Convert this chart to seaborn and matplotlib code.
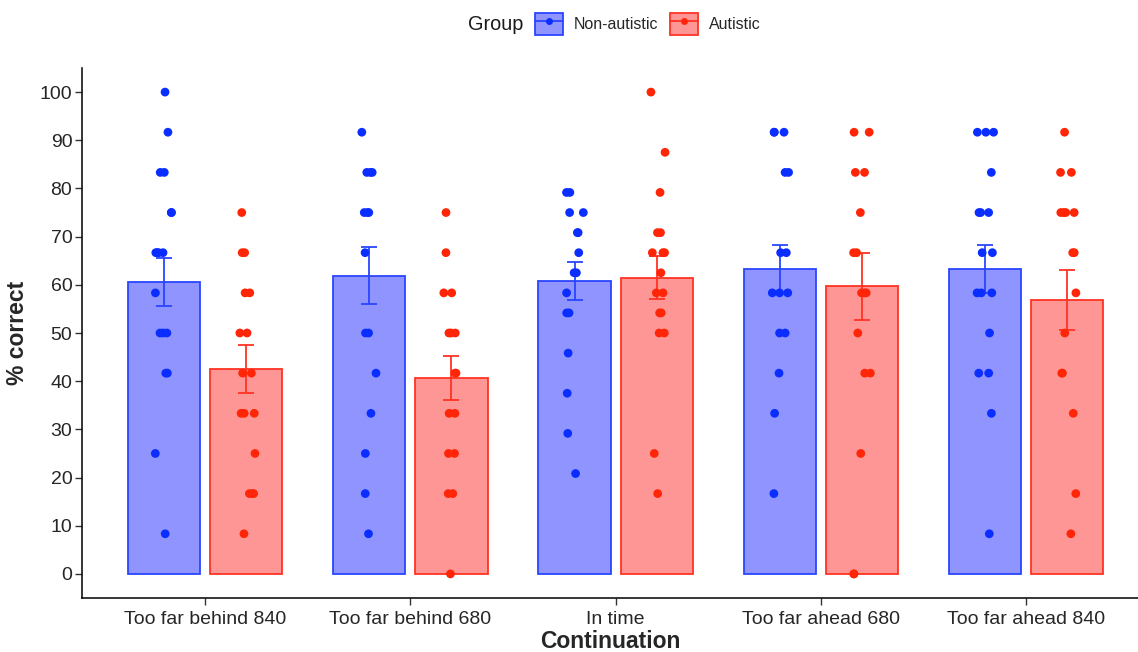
import numpy as np
import pandas as pd
import matplotlib
matplotlib.use("Agg")
import matplotlib.pyplot as plt
from matplotlib.patches import Patch
from matplotlib.lines import Line2D
from matplotlib.legend_handler import HandlerTuple
import seaborn as sns

conditions = ["Too far behind 840", "Too far behind 680", "In time",
              "Too far ahead 680", "Too far ahead 840"]
groups = ["Non-autistic", "Autistic"]

# bar heights and standard errors
mean_non = [60.6, 61.9, 60.8, 63.2, 63.2]
se_non = [5.05, 5.9, 3.9, 5.0, 5.0]
mean_aut = [42.6, 40.7, 61.5, 59.7, 56.9]
se_aut = [4.95, 4.6, 4.5, 6.9, 6.2]

# individual scores (% correct)
non_behind840 = [100, 91.67, 83.33, 83.33, 75, 75, 66.67, 66.67, 66.67, 66.67,
                 58.33, 50, 50, 50, 41.67, 41.67, 25, 8.33]
aut_behind840 = [75, 66.67, 66.67, 58.33, 58.33, 50, 50, 41.67, 41.67,
                 33.33, 33.33, 33.33, 25, 16.67, 16.67, 16.67, 8.33]
non_behind680 = [91.67, 83.33, 83.33, 83.33, 75, 75, 75, 66.67, 50, 50,
                 41.67, 33.33, 25, 16.67, 8.33]
aut_behind680 = [75, 66.67, 58.33, 58.33, 50, 50, 50, 41.67, 41.67,
                 33.33, 33.33, 25, 25, 16.67, 16.67, 0]
non_intime = [79.17, 79.17, 75, 75, 70.83, 70.83, 66.67, 62.5, 62.5, 58.33,
              54.17, 54.17, 45.83, 37.5, 29.17, 20.83]
aut_intime = [100, 87.5, 79.17, 70.83, 70.83, 66.67, 66.67, 66.67, 62.5,
              58.33, 58.33, 54.17, 54.17, 50, 50, 25, 16.67]
non_ahead680 = [91.67, 91.67, 91.67, 83.33, 83.33, 66.67, 66.67, 58.33, 58.33,
                58.33, 50, 50, 41.67, 33.33, 16.67]
aut_ahead680 = [91.67, 91.67, 83.33, 83.33, 75, 66.67, 66.67, 58.33, 58.33,
                58.33, 50, 41.67, 41.67, 25, 0, 0]
non_ahead840 = [91.67, 91.67, 91.67, 83.33, 75, 75, 75, 66.67, 66.67, 58.33,
                58.33, 58.33, 50, 41.67, 41.67, 33.33, 8.33]
aut_ahead840 = [91.67, 83.33, 83.33, 75, 75, 75, 75, 66.67, 66.67, 58.33,
                50, 41.67, 41.67, 33.33, 16.67, 8.33]

non_points = [non_behind840, non_behind680, non_intime, non_ahead680, non_ahead840]
aut_points = [aut_behind840, aut_behind680, aut_intime, aut_ahead680, aut_ahead840]

rows = []
for c, vals in zip(conditions, non_points):
    rows += [(c, "Non-autistic", v) for v in vals]
for c, vals in zip(conditions, aut_points):
    rows += [(c, "Autistic", v) for v in vals]
points = pd.DataFrame(rows, columns=["Continuation", "Group", "score"])

summary = pd.DataFrame({
    "Continuation": conditions * 2,
    "Group": ["Non-autistic"] * 5 + ["Autistic"] * 5,
    "mean": mean_non + mean_aut,
    "se": se_non + se_aut,
})

fill = {"Non-autistic": "#8F94FF", "Autistic": "#FF9696"}
edge = {"Non-autistic": "#2A45FF", "Autistic": "#FF3322"}
dots = {"Non-autistic": "#0A2EFF", "Autistic": "#FF2608"}

sns.set_style("white")
plt.rcParams["font.family"] = ["Liberation Sans", "DejaVu Sans"]

fig = plt.figure(figsize=(11.38, 6.52), dpi=100)
ax = fig.add_axes([82 / 1138, 1 - 598 / 652, 1 - 82 / 1138, (598 - 68) / 652])

sns.barplot(data=summary, x="Continuation", y="mean", hue="Group",
            order=conditions, hue_order=groups, palette=fill,
            errorbar=None, gap=0.12, width=0.8, legend=False, ax=ax, zorder=1)

for cont, g in zip(ax.containers, groups):
    sub = summary[summary["Group"] == g]
    xs = []
    for p in cont:
        p.set_facecolor(fill[g])
        p.set_edgecolor(edge[g])
        p.set_linewidth(1.3)
        xs.append(p.get_x() + p.get_width() / 2)
    ax.errorbar(xs, sub["mean"], yerr=sub["se"], fmt="none", ecolor=edge[g],
                elinewidth=1.3, capsize=6, capthick=1.3, zorder=3)

np.random.seed(3)
sns.stripplot(data=points, x="Continuation", y="score", hue="Group",
              order=conditions, hue_order=groups, palette=dots, dodge=True,
              jitter=0.09, size=6.3, linewidth=0, legend=False, ax=ax, zorder=4)

ax.set_ylim(-5, 105)
ax.set_xlim(-0.6, 4.545)
ax.set_yticks(range(0, 101, 10))
ax.tick_params(axis="both", labelsize=14, colors="#333333", length=5,
               width=1, direction="out", left=True, bottom=True, pad=2)
ax.tick_params(axis="x", pad=4)
ax.tick_params(axis="both", labelcolor="#262626")
for s in ["top", "right"]:
    ax.spines[s].set_visible(False)
for s in ["left", "bottom"]:
    ax.spines[s].set_color("black")
    ax.spines[s].set_linewidth(1.1)
ax.set_xlabel("Continuation", fontsize=16.5, fontweight="bold", labelpad=2)
ax.set_ylabel("% correct", fontsize=16.5, fontweight="bold", labelpad=8)

handles = [(Patch(facecolor=fill[g], edgecolor=edge[g], linewidth=1.3),
            Line2D([], [], color=edge[g], marker="o", markersize=5,
                   markerfacecolor=dots[g], markeredgewidth=0, linewidth=1.3))
           for g in groups]
fig.legend(handles, groups, handler_map={tuple: HandlerTuple(ndivide=1)},
           loc="center left", bbox_to_anchor=(535 / 1138, 1 - 24 / 652),
           ncol=2, frameon=False, fontsize=11.5, handlelength=1.75,
           handleheight=1.75, handletextpad=0.7, columnspacing=0.7,
           borderpad=0, borderaxespad=0)
fig.text(468 / 1138, 1 - 25 / 652, "Group", fontsize=14.3, va="center",
         ha="left", color="#1a1a1a")

fig.savefig("out.png", dpi=100)
